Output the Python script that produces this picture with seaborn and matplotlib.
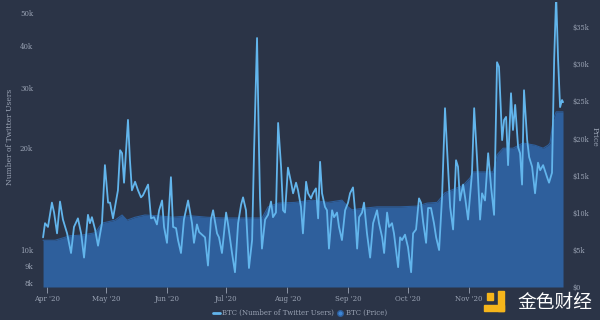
import matplotlib
matplotlib.use('Agg')
import matplotlib.pyplot as plt
from matplotlib.patches import Rectangle
from matplotlib.lines import Line2D
from matplotlib.ticker import NullLocator, FixedLocator
import seaborn as sns
import pandas as pd
import numpy as np

# ---------------- data ----------------
start = pd.Timestamp('2020-04-01')

user_days = [-2.0, -1.0, 0.5, 2.5, 3.6, 5.1, 6.6, 8.1, 10.2, 12.2, 13.7, 15.7, 17.3, 18.8,
             20.8, 21.8, 22.8, 24.4, 25.9, 27.9, 29.4, 31.0, 32.0, 33.5, 36.0, 37.1, 38.1,
             39.1, 41.1, 42.1, 43.1, 44.7, 46.2, 47.7, 48.7, 51.3, 52.8, 54.3, 55.8, 56.9,
             58.4, 59.4, 60.9, 62.9, 64.0, 65.5, 66.5, 68.0, 69.5, 71.6, 73.6, 74.6, 76.1,
             77.2, 78.7, 80.2, 81.7, 83.2, 84.3, 86.3, 87.3, 88.8, 90.9, 91.9, 93.9, 95.4,
             97.0, 98.5, 99.5, 101.0, 102.5, 104.1, 105.1, 106.6, 107.6, 108.1, 109.1, 110.7,
             112.2, 113.7, 114.7, 116.2, 117.3, 118.8, 119.8, 120.8, 122.3, 123.9, 124.9,
             126.4, 127.4, 128.9, 129.9, 131.5, 132.5, 134.0, 135.0, 136.5, 137.6, 138.6,
             139.6, 141.1, 142.1, 143.1, 144.7, 145.7, 147.2, 148.2, 149.7, 151.3, 152.8,
             153.8, 155.3, 156.3, 157.4, 158.4, 159.9, 160.9, 162.4, 164.0, 165.5, 167.5,
             168.5, 170.1, 171.1, 172.6, 173.6, 175.1, 176.1, 178.2, 179.2, 180.2, 181.7,
             183.2, 184.8, 185.8, 187.3, 188.8, 189.8, 190.9, 192.4, 193.4, 194.9, 196.4,
             197.5, 199.0, 200.5, 202.0, 203.0, 204.6, 206.1, 207.6, 208.6, 209.6, 211.2,
             212.2, 213.7, 215.7, 216.8, 218.3, 219.8, 220.8, 222.3, 223.9, 225.4, 226.9,
             228.4, 229.4, 231.0, 232.0, 233.0, 234.0, 235.5, 236.5, 237.6, 239.1, 240.1,
             241.1, 242.1, 243.7, 244.7, 246.2, 247.7, 249.2, 250.3, 251.8, 253.8, 254.8,
             256.3, 257.4, 258.4, 259.4, 260.4, 261.4, 261.9]

twitter_users_k = [10.9, 12.0, 11.7, 13.8, 12.9, 11.2, 13.9, 12.3, 11.2, 9.8, 11.7, 12.4, 11.2, 9.5,
                   12.7, 12.0, 12.5, 11.5, 10.3, 12.0, 17.8, 13.8, 13.8, 12.4, 15.0, 19.7, 19.3,
                   15.8, 24.2, 18.4, 15.0, 15.9, 15.0, 14.3, 14.5, 15.6, 12.4, 12.5, 11.9, 13.1,
                   14.0, 11.7, 10.5, 16.4, 11.7, 11.6, 10.7, 9.8, 12.3, 14.0, 12.0, 10.5, 11.9,
                   11.3, 11.1, 10.9, 9.0, 12.3, 13.1, 11.2, 10.9, 9.8, 12.9, 11.9, 9.8, 8.6,
                   12.0, 13.6, 14.3, 13.1, 8.85, 10.7, 19.7, 42.2, 19.7, 14.3, 10.1, 12.3,
                   12.7, 13.9, 12.5, 12.9, 23.7, 17.6, 13.1, 12.9, 17.5, 15.8, 14.7,
                   15.8, 15.0, 13.4, 11.2, 15.9, 14.7, 14.2, 14.7, 15.2, 12.4, 18.2,
                   14.7, 13.4, 13.1, 10.1, 13.1, 12.5, 12.9, 11.7, 10.7, 13.1, 13.8,
                   14.7, 15.3, 13.1, 10.1, 12.5, 12.9, 13.8, 11.2, 9.5, 12.0, 13.1,
                   12.0, 10.9, 9.8, 12.9, 11.7, 12.0, 11.2, 8.9, 10.9, 10.7, 11.1,
                   10.2, 8.6, 11.2, 11.5, 14.2, 13.8, 12.1, 10.5, 13.3, 13.3, 12.0,
                   10.9, 10.0, 14.3, 26.2, 20.1, 13.4, 11.5, 18.4, 17.6, 14.0, 15.6,
                   14.3, 12.3, 16.9, 26.2, 18.4, 12.3, 14.7, 14.0, 19.3, 15.3, 12.7,
                   35.8, 34.7, 21.1, 24.2, 24.7, 17.8, 29.0, 22.6, 26.8, 20.1, 19.3,
                   15.6, 29.6, 21.1, 18.8, 17.6, 14.7, 18.1, 17.2, 17.8, 16.4, 15.8,
                   16.9, 36.4, 56.5, 36.4, 26.4, 27.7, 27.3]

price_days = [-2.0, 4.1, 11.7, 17.8, 24.4, 27.9, 34.5, 38.1, 40.6, 44.7, 49.7, 55.8, 64.0,
              72.6, 81.2, 89.3, 97.9, 109.1, 112.2, 117.3, 125.9, 134.5, 142.6, 149.7,
              152.8, 154.8, 160.4, 167.5, 179.2, 187.8, 192.9, 198.0, 202.0, 203.0, 211.2,
              214.7, 216.2, 219.8, 226.4, 228.4, 231.5, 236.5, 241.6, 247.7, 251.8, 254.3,
              255.3, 256.9, 258.4, 261.9]

btc_price_k = [6.3, 6.3, 6.9, 7.0, 7.3, 8.6, 9.0, 9.7, 9.0, 9.4, 9.7, 9.6, 9.4,
               9.6, 9.4, 9.3, 9.3, 9.3, 10.8, 11.3, 11.4, 11.7, 11.4, 11.7,
               10.8, 10.4, 10.6, 10.8, 10.8, 10.9, 11.3, 11.4, 12.7, 12.8, 13.7,
               14.7, 15.5, 15.5, 15.5, 17.8, 18.7, 18.7, 19.4, 19.1, 18.7, 19.1,
               19.4, 22.5, 23.6, 23.6]

user_ticks = [8000, 9000, 10000, 20000, 30000, 40000, 50000]
user_tick_labels = ['8k', '9k', '10k', '20k', '30k', '40k', '50k']
price_ticks = [0, 5000, 10000, 15000, 20000, 25000, 30000, 35000]
price_tick_labels = ['$0', '$5k', '$10k', '$15k', '$20k', '$25k', '$30k', '$35k']
month_ticks = ['2020-04-01', '2020-05-01', '2020-06-01', '2020-07-01',
               '2020-08-01', '2020-09-01', '2020-10-01', '2020-11-01']
month_labels = ["Apr '20", "May '20", "Jun '20", "Jul '20",
                "Aug '20", "Sep '20", "Oct '20", "Nov '20"]
series_names = ['BTC (Number of Twitter Users)', 'BTC (Price)']

users_df = pd.DataFrame({'date': start + pd.to_timedelta(user_days, unit='D'),
                         'users': np.array(twitter_users_k) * 1000})
price_df = pd.DataFrame({'date': start + pd.to_timedelta(price_days, unit='D'),
                         'price': np.array(btc_price_k) * 1000})

# ---------------- style ----------------
BG = '#2b3447'
AREA = '#2e5f9c'
LINE = '#62b5ec'
TXT = '#9aa3b4'

sns.set_style('dark')
plt.rcParams['font.family'] = ['DejaVu Serif', 'DejaVu Sans']

fig = plt.figure(figsize=(6, 3.2), dpi=100, facecolor=BG)
ax_p = fig.add_axes([40 / 600, 33 / 320, 525 / 600, 285 / 320])
ax_p.set_facecolor(BG)

# price area
ax_p.fill_between(price_df['date'], 0, price_df['price'], color=AREA, lw=0)
sns.lineplot(data=price_df, x='date', y='price', ax=ax_p, color=AREA, lw=0.8)

ax_u = ax_p.twinx()
sns.lineplot(data=users_df, x='date', y='users', ax=ax_u, color=LINE, lw=1.3)
ax_u.set_yscale('log')

xmin = start + pd.Timedelta(days=-3.55)
xmax = start + pd.Timedelta(days=262.9)
ax_p.set_xlim(xmin, xmax)
ax_u.set_xlim(xmin, xmax)
ax_p.set_ylim(0, 38400)
ax_u.set_ylim(7780, 53900)

# axis sides: users on left, price on right
ax_u.yaxis.tick_left()
ax_u.yaxis.set_label_position('left')
ax_p.yaxis.tick_right()
ax_p.yaxis.set_label_position('right')

ax_u.yaxis.set_major_locator(FixedLocator(user_ticks))
ax_u.yaxis.set_minor_locator(NullLocator())
ax_u.set_yticklabels(user_tick_labels)
ax_p.set_yticks(price_ticks)
ax_p.set_yticklabels(price_tick_labels)

ax_p.set_xticks(pd.to_datetime(month_ticks))
ax_p.set_xticklabels(month_labels)

for a in (ax_p, ax_u):
    for s in a.spines.values():
        s.set_visible(False)
    a.grid(False)
    a.set_xlabel('')

ax_p.tick_params(axis='x', length=4, width=0.6, color=TXT, labelcolor=TXT,
                 labelsize=5, pad=2, bottom=True, direction='out')
ax_p.tick_params(axis='y', length=0, labelcolor=TXT, labelsize=4.8, pad=5)
ax_u.tick_params(axis='y', which='both', length=0, labelcolor=TXT, labelsize=5, pad=5)

ax_u.set_ylabel('Number of Twitter Users', color=TXT, fontsize=5.5)
ax_u.yaxis.set_label_coords((14 - 40) / 525, (287 - 137) / 285)
ax_p.set_ylabel('Price', color=TXT, fontsize=5.5, rotation=-90, va='center')
ax_p.yaxis.set_label_coords((595 - 40) / 525, (287 - 137) / 285)

# legend
handles = [Line2D([0], [0], color=LINE, lw=2),
           Line2D([0], [0], marker='o', color=AREA, markerfacecolor='#3d86d6',
                  linestyle='', markersize=4)]
fig.legend(handles, series_names, loc='center', bbox_to_anchor=(300 / 600, 1 - 313 / 320),
           ncol=2, frameon=False, fontsize=5, labelcolor=TXT, handlelength=1.0,
           handletextpad=0.3, columnspacing=0.4)

# watermark
fig.patches.append(Rectangle((484 / 600, 1 - 311 / 320), 20 / 600, 6 / 320,
                             transform=fig.transFigure, color='#f5b51b', zorder=5))
fig.patches.append(Rectangle((498 / 600, 1 - 311 / 320), 6 / 600, 20 / 320,
                             transform=fig.transFigure, color='#f5b51b', zorder=5))
fig.patches.append(Rectangle((487 / 600, 1 - 300 / 320), 6 / 600, 7 / 320,
                             transform=fig.transFigure, color='#f5b51b', zorder=5))
fig.text(555 / 600, 1 - 302 / 320, '金色财经', color='white', fontsize=13.5,
         ha='center', va='center', family=['Noto Sans CJK SC', 'DejaVu Sans'], zorder=6)

fig.savefig('out.png', dpi=100, facecolor=BG)
